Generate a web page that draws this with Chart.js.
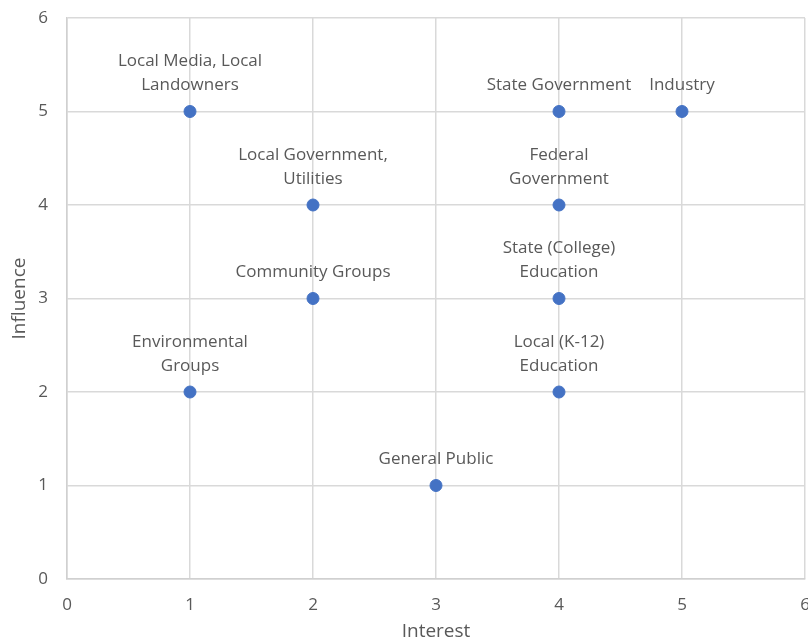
<!DOCTYPE html>
<html><head><meta charset="utf-8">
<script src="https://cdn.jsdelivr.net/npm/chart.js@4/dist/chart.umd.min.js"></script>
<style>html,body{margin:0;padding:0;background:#fff}#wrap{width:808px;height:643px}</style>
</head><body><div id="wrap"><canvas id="c" width="808" height="643"></canvas></div>
<script>
const names = [
  ["Local Media, Local", "Landowners"],
  ["State Government"],
  ["Industry"],
  ["Local Government,", "Utilities"],
  ["Federal", "Government"],
  ["Community Groups"],
  ["State (College)", "Education"],
  ["Environmental", "Groups"],
  ["Local (K-12)", "Education"],
  ["General Public"]
];
const interest  = [1, 4, 5, 2, 4, 2, 4, 1, 4, 3];
const influence = [5, 5, 5, 4, 4, 3, 3, 2, 2, 1];
const xTicks = [0, 1, 2, 3, 4, 5, 6];
const yTicks = [0, 1, 2, 3, 4, 5, 6];

const FONT = "'Open Sans', 'Liberation Sans', sans-serif";
const TXT = '#595959';

const labelPlugin = {
  id: 'pointLabels',
  afterDatasetsDraw(chart) {
    const ctx = chart.ctx;
    const meta = chart.getDatasetMeta(0);
    ctx.save();
    ctx.font = "17px " + FONT;
    ctx.fillStyle = TXT;
    ctx.textAlign = 'center';
    ctx.textBaseline = 'middle';
    meta.data.forEach((pt, i) => {
      const lines = names[i];
      const lh = 24;
      const n = lines.length;
      lines.forEach((ln, j) => {
        const y = pt.y - 26 - (n - 1 - j) * lh;
        ctx.fillText(ln, pt.x, y);
      });
    });
    ctx.restore();
  }
};

new Chart(document.getElementById('c'), {
  type: 'scatter',
  data: {
    datasets: [{
      data: interest.map((x, i) => ({x: x, y: influence[i]})),
      backgroundColor: '#4472C4',
      borderColor: '#4472C4',
      pointRadius: 6,
      pointHoverRadius: 6
    }]
  },
  options: {
    responsive: false,
    animation: false,
    layout: {autoPadding: false, padding: {top: 18, right: 3, left: 0, bottom: 0}},
    plugins: {legend: {display: false}, tooltip: {enabled: false}},
    scales: {
      x: {
        type: 'linear', min: 0, max: 6,
        afterBuildTicks: s => { s.ticks = xTicks.map(v => ({value: v})); },
        afterFit: s => { s.height = 64; s.paddingLeft = 0; s.paddingRight = 0; },
        grid: {color: '#d9d9d9', lineWidth: 1.5, drawTicks: false},
        border: {color: '#d0d0d0', width: 1.5},
        ticks: {padding: 16, color: TXT, font: {size: 17, family: FONT}},
        title: {display: true, text: 'Interest', color: TXT, font: {size: 19, family: FONT}, padding: {top: 0, bottom: 0}}
      },
      y: {
        type: 'linear', min: 0, max: 6,
        afterBuildTicks: s => { s.ticks = yTicks.map(v => ({value: v})); },
        afterFit: s => { s.width = 67; s.paddingTop = 0; s.paddingBottom = 0; },
        grid: {color: '#d9d9d9', lineWidth: 1.5, drawTicks: false},
        border: {color: '#d0d0d0', width: 1.5},
        ticks: {padding: 19, color: TXT, font: {size: 17, family: FONT}},
        title: {display: true, text: 'Influence', color: TXT, font: {size: 19, family: FONT}, padding: {top: 8, bottom: 0}}
      }
    }
  },
  plugins: [labelPlugin]
});
</script>
</body></html>
